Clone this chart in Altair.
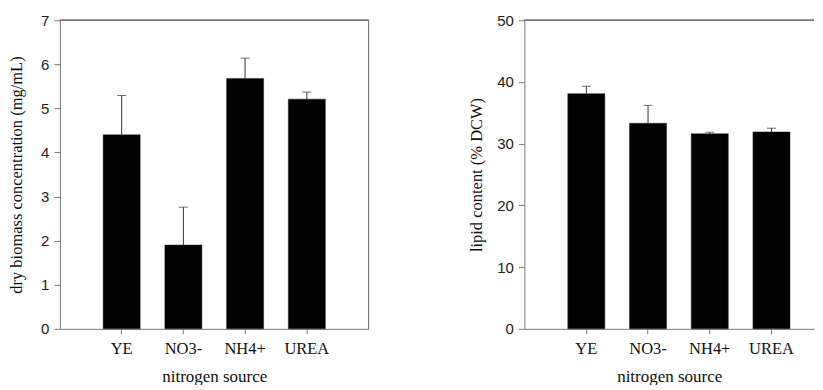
import altair as alt
import pandas as pd

categories = ["YE", "NO3-", "NH4+", "UREA"]
biomass = [4.40, 1.90, 5.68, 5.21]
biomass_err = [0.89, 0.86, 0.46, 0.16]
lipid = [38.1, 33.3, 31.6, 31.9]
lipid_err = [1.2, 2.9, 0.25, 0.6]

H = 309
AXIS_COLOR = "#7a7a7a"
SERIF = "Liberation Serif"
SANS = "Liberation Sans"


def panel(values, errs, ymax, ystep, ytitle, width, scale_kw, title_pad, right_frame):
    df = pd.DataFrame({"cat": categories, "val": values, "err": errs})
    df["top"] = df["val"] + df["err"]
    x = alt.X("cat:N", sort=categories, title="nitrogen source",
              scale=alt.Scale(**scale_kw),
              axis=alt.Axis(labelAngle=0, labelFont=SERIF, labelFontSize=16.5,
                            labelColor="#111", tickSize=5, labelPadding=7,
                            titleFont=SERIF, titleFontSize=17, titleFontWeight="normal",
                            titlePadding=11, titleColor="#111",
                            domainColor=AXIS_COLOR, tickColor=AXIS_COLOR))
    y = alt.Y("val:Q", title=ytitle,
              scale=alt.Scale(domain=[0, ymax], nice=False, zero=True),
              axis=alt.Axis(values=list(range(0, ymax + 1, ystep)), grid=False,
                            labelFont=SANS, labelFontSize=15, labelColor="#222",
                            tickSize=6, labelPadding=5,
                            titleFont=SERIF, titleFontSize=16.5, titleFontWeight="normal",
                            titlePadding=title_pad, titleColor="#111",
                            domainColor=AXIS_COLOR, tickColor=AXIS_COLOR))
    base = alt.Chart(df)
    bars = base.mark_bar(color="black", stroke="#222", strokeWidth=0.5).encode(x=x, y=y)
    errline = base.mark_rule(color="#333", strokeWidth=1).encode(
        x=alt.X("cat:N", sort=categories), y="val:Q", y2="top:Q")
    cap = base.mark_tick(color="#333", size=9, thickness=1, orient="horizontal").encode(
        x=alt.X("cat:N", sort=categories), y="top:Q")
    top_line = alt.Chart(df).mark_rule(color=AXIS_COLOR, strokeWidth=1).encode(
        x=alt.value(0), x2=alt.value(width), y=alt.value(0))
    layers = [bars, errline, cap, top_line]
    if right_frame:
        layers.append(alt.Chart(df).mark_rule(color=AXIS_COLOR, strokeWidth=1).encode(
            x=alt.value(width), y=alt.value(0), y2=alt.value(H)))
    return alt.layer(*layers).properties(width=width, height=H)


left = panel(biomass, biomass_err, 7, 1, "dry biomass concentration (mg/mL)", 309,
             dict(paddingInner=0.4, paddingOuter=0.7), 16, True)
right = panel(lipid, lipid_err, 50, 10, "lipid content (% DCW)", 290,
              dict(paddingInner=0.4, paddingOuter=0.5465, align=0.644), 12, False)

chart = alt.hconcat(left, right, spacing=99).resolve_scale(y="independent").properties(
    padding={"left": 0, "top": 5, "right": 0, "bottom": 0}
).configure_view(stroke=None)

chart.save("out.html", embed_options={"renderer": "svg", "actions": False})
